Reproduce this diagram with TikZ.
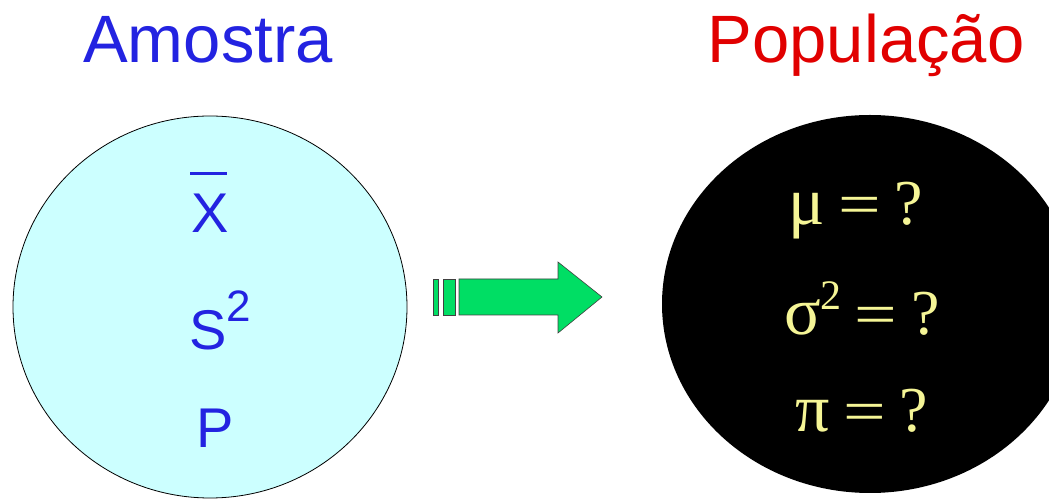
\documentclass[tikz,border=0pt]{standalone}
\usepackage{fontspec}
\usepackage{graphicx}
\setmainfont{Liberation Serif}
\newfontfamily\arial{Liberation Sans}
\usetikzlibrary{shapes.geometric}
\definecolor{ablue}{RGB}{35,35,225}
\definecolor{pred}{RGB}{225,0,0}
\definecolor{lcyan}{RGB}{204,255,255}
\definecolor{pyel}{RGB}{245,245,150}
\definecolor{agreen}{RGB}{0,222,100}
\newcommand{\grk}[1]{{\fontsize{68}{68}\selectfont #1}}
\newcommand{\eqq}{\hspace{13pt}\scalebox{1.4}[1.1]{=}\hspace{14pt}{\fontsize{64}{64}\selectfont ?}}
\begin{document}
\begin{tikzpicture}[x=1pt,y=1pt,
  title/.style={font=\arial\fontsize{67}{67}\selectfont, anchor=base, inner sep=0},
  stat/.style={font=\arial\fontsize{56}{56}\selectfont, text=ablue, anchor=base, inner sep=0},
  param/.style={font=\fontsize{54}{54}\selectfont, text=pyel, anchor=base, inner sep=0},
  blockarrow/.style={draw=black!75, fill=agreen, line width=0.6, line join=miter}]
\useasboundingbox (0,0) rectangle (1049,500);
\node[ellipse, draw=black, line width=0.8, fill=lcyan, minimum width=394, minimum height=382, inner sep=0] (amostra) at (210,193) {};
\node[ellipse, fill=black, minimum width=416, minimum height=378, inner sep=0] (pop) at (870,196) {};
\node[title, text=ablue] (t1) at (208,437) {Amostra};
\node[title, text=pred] (t2) at (866,437) {População};
\node[stat] (xb) at (210,267) {X};
\draw[ablue, line width=3] ([xshift=-1,yshift=59]xb.base west) -- ([xshift=-2,yshift=59]xb.base east);
\node[stat] (s2) at (220,150) {S\raisebox{28pt}{\fontsize{44}{44}\selectfont 2}};
\node[stat] (pp) at (215,52) {P};
\node[param] (mu) at (856,275) {\grk{μ}\eqq};
\node[param] (sig) at (862,165) {\grk{σ}\raisebox{25pt}{\fontsize{42}{42}\selectfont 2}\eqq};
\node[param] (pi) at (862,68) {\grk{π}\eqq};
\draw[blockarrow] (459,221) -- (558,221) -- (558,238) -- (602,203) -- (558,167) -- (558,185) -- (459,185) -- cycle;
\draw[blockarrow] (433,185) rectangle (438,221);
\draw[blockarrow] (443,185) rectangle (455,221);
\end{tikzpicture}
\end{document}
